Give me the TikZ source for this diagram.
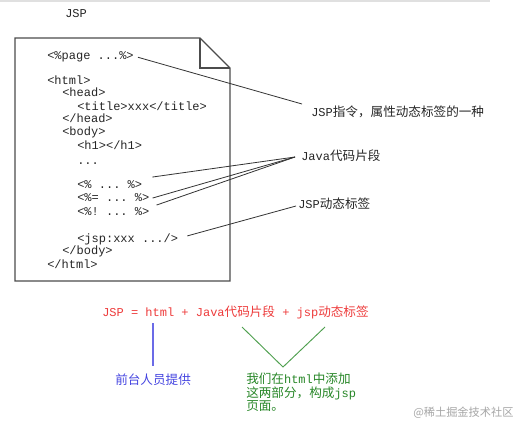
\documentclass[tikz,border=0pt]{standalone}
\usepackage{fontspec}
\setmainfont{Liberation Serif}
\setmonofont{Liberation Mono}
\newfontfamily\cjk[Scale=1.05]{Noto Sans CJK SC}
\usetikzlibrary{calc}
\definecolor{fred}{RGB}{238,60,60}
\definecolor{fblue}{RGB}{70,70,225}
\definecolor{fgreen}{RGB}{40,135,40}
\definecolor{lgreen}{RGB}{80,160,80}
\begin{document}
\begin{tikzpicture}[x=0.75pt,y=-0.75pt,
  code/.style={anchor=base west, inner sep=0, font=\fontsize{9}{10}\selectfont\ttfamily, text=black!85},
  lab/.style={anchor=base west, inner sep=0, font=\fontsize{9}{10}\selectfont\ttfamily, text=black!85},
  conn/.style={draw=black!80, line width=0.6pt},
  pageline/.style={draw=black!70, line width=0.8pt, line join=miter}]
\useasboundingbox[fill=white] (0,0) rectangle (513,421);
\draw[black!12, line width=1.2pt] (0,0.8) -- (490,0.8);
\node[code] (title) at (65,17) {JSP};
% page
\draw[pageline] (15,38) -- (200,38) -- (230,68) -- (230,281) -- (15,281) -- cycle;
\draw[pageline] (200,38) -- (200,68) -- (230,68);
% code
\node[code] (p1) at (47,59) {<\%page ...\%>};
\node[code] (h1) at (47,84) {<html>};
\node[code] (h2) at (62,96) {<head>};
\node[code] (h3) at (77,110) {<title>xxx</title>};
\node[code] (h4) at (62,122) {</head>};
\node[code] (h5) at (62,135) {<body>};
\node[code] (h6) at (77,149) {<h1></h1>};
\node[code] (h7) at (77,164) {...};
\node[code] (h8) at (77,188) {<\% ... \%>};
\node[code] (h9) at (77,201) {<\%= ... \%>};
\node[code] (h10) at (77,215) {<\%! ... \%>};
\node[code] (h11) at (77,242) {<jsp:xxx .../>};
\node[code] (h12) at (62,254) {</body>};
\node[code] (h13) at (47,268) {</html>};
% labels
\node[lab] (l1) at (311,116) {JSP\cjk 指令，属性动态标签的一种};
\node[lab] (l2) at (301,160) {Java\cjk 代码片段};
\node[lab] (l3) at (298,208) {JSP\cjk 动态标签};
\coordinate (c1) at (302,104);
\coordinate (c2) at (295,157);
\coordinate (c3) at (296,206);
\draw[conn] ($(p1.east)+(4,1)$) -- (c1);
\draw[conn] ($(h8.east)+(10,-7)$) -- (c2);
\draw[conn] ($(h9.east)+(3,1)$) -- (c2);
\draw[conn] ($(h10.east)+(7,-6)$) -- (c2);
\draw[conn] ($(h11.east)+(9,-3)$) -- (c3);
% formula
\node[lab, text=fred] (f) at (102,316) {JSP = html + Java\cjk 代码片段\ttfamily{} + jsp\cjk 动态标签};
\node[lab, text=fblue] (b) at (115,384) {\cjk 前台人员提供};
\coordinate (b1) at (153,323);
\coordinate (b2) at (153,366);
\draw[fblue!80, line width=0.8pt] (b1) -- (b2);
\coordinate (v1) at (242,327);
\coordinate (v2) at (283,367);
\coordinate (v3) at (325,327);
\draw[lgreen, line width=0.7pt] (v1) -- (v2) -- (v3);
\node[lab, text=fgreen] (g1) at (246,383) {\cjk 我们在\ttfamily html\cjk 中添加};
\node[lab, text=fgreen] (g2) at (246,397) {\cjk 这两部分，构成\ttfamily jsp};
\node[lab, text=fgreen] (g3) at (246,410) {\cjk 页面。};
\node[anchor=base west, inner sep=0, text=black!35, font=\fontsize{8}{9}\selectfont\cjk] (wm) at (413,416) {@稀土掘金技术社区};
\end{tikzpicture}
\end{document}
